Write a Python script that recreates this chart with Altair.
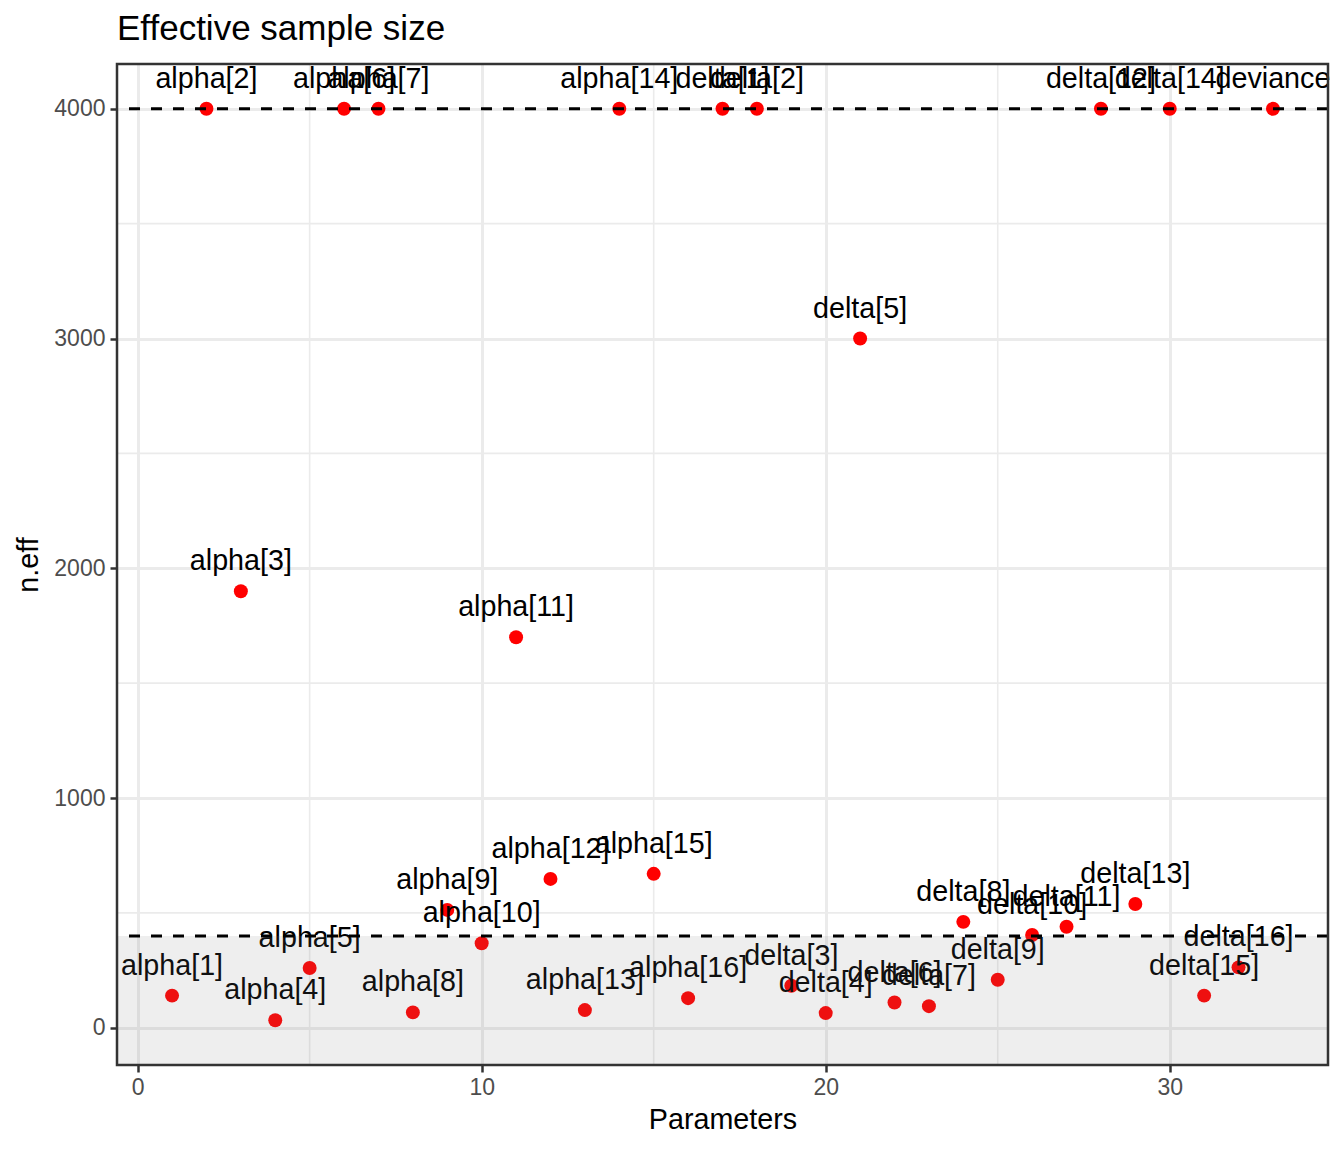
import altair as alt
import pandas as pd

# ---- data ----
alpha_names = [f"alpha[{i}]" for i in range(1, 17)]
alpha_neff = [140, 4000, 1900, 33, 260, 4000, 4000, 67, 513, 368, 1700, 648, 77, 4000, 670, 129]
delta_names = [f"delta[{i}]" for i in range(1, 17)]
delta_neff = [4000, 4000, 183, 64, 3000, 110, 94, 461, 209, 404, 440, 4000, 539, 4000, 140, 263]
other_names = ["deviance"]
other_neff = [4000]

x_ticks = [0, 10, 20, 30]
x_minor = [5, 15, 25]
y_ticks = [0, 1000, 2000, 3000, 4000]
y_minor = [500, 1500, 2500, 3500]
ref_lines = [400, 4000]
shade_top = [400]

names = alpha_names + delta_names + other_names
neff = alpha_neff + delta_neff + other_neff
df = pd.DataFrame({"param": names, "idx": list(range(1, len(names) + 1)), "neff": neff})

W, H = 1211, 1001
FONT = "Liberation Sans"

xscale = alt.Scale(domain=[-0.6, 34.6], nice=False, zero=False)
yscale = alt.Scale(domain=[-162, 4195], nice=False, zero=False)

xaxis = alt.Axis(values=x_ticks, title="Parameters", grid=True, gridColor="#EBEBEB", gridWidth=3,
                 domain=False, tickColor="#333333", tickWidth=2.5, tickSize=7,
                 labelColor="#4D4D4D", labelFontSize=23, labelFont=FONT, labelPadding=4,
                 titleFontSize=28.7, titleFont=FONT, titleFontWeight="normal", titleColor="black",
                 titlePadding=6, format="d")
yaxis = alt.Axis(values=y_ticks, title="n.eff", grid=True, gridColor="#EBEBEB", gridWidth=3,
                 domain=False, tickColor="#333333", tickWidth=2.5, tickSize=7,
                 labelColor="#4D4D4D", labelFontSize=23, labelFont=FONT, labelPadding=5,
                 titleFontSize=28.7, titleFont=FONT, titleFontWeight="normal", titleColor="black",
                 titlePadding=10, format="d")

minor_x = alt.Chart(pd.DataFrame({"v": x_minor})).mark_rule(color="#EBEBEB", strokeWidth=1.6).encode(
    x=alt.X("v:Q", scale=xscale, axis=xaxis))
minor_y = alt.Chart(pd.DataFrame({"v": y_minor})).mark_rule(color="#EBEBEB", strokeWidth=1.6).encode(
    y=alt.Y("v:Q", scale=yscale, axis=yaxis))

base = alt.Chart(df)
points = base.mark_circle(color="#FF0000", opacity=1, size=195).encode(
    x=alt.X("idx:Q", scale=xscale, axis=xaxis),
    y=alt.Y("neff:Q", scale=yscale, axis=yaxis),
)
labels = base.mark_text(font=FONT, fontSize=28.7, color="black", align="center",
                        baseline="alphabetic", dy=-21).encode(
    x=alt.X("idx:Q", scale=xscale, axis=xaxis),
    y=alt.Y("neff:Q", scale=yscale, axis=yaxis),
    text="param:N",
)
shade = alt.Chart(pd.DataFrame({"top": shade_top})).mark_rect(color="#7F7F7F", opacity=0.13).encode(
    y=alt.Y("top:Q", scale=yscale, axis=yaxis),
    y2=alt.value(H),
    x=alt.value(0),
    x2=alt.value(W),
)
rules = alt.Chart(pd.DataFrame({"y": ref_lines})).mark_rule(color="black", strokeWidth=3,
                                                           strokeDash=[11, 11]).encode(
    y=alt.Y("y:Q", scale=yscale, axis=yaxis))
border = alt.Chart(pd.DataFrame({"top": shade_top})).mark_rect(
    filled=False, stroke="#333333", strokeWidth=2.5, fillOpacity=0).encode(
    x=alt.value(0), x2=alt.value(W), y=alt.value(0), y2=alt.value(H))

chart = alt.layer(minor_x, minor_y, points, labels, shade, rules, border).properties(
    width=W, height=H,
    title=alt.TitleParams("Effective sample size", anchor="start", frame="group", font=FONT,
                          fontSize=35, fontWeight="normal", color="black", offset=16),
    autosize=alt.AutoSizeParams(type="none"),
    padding={"left": 109, "top": 56, "right": 8, "bottom": 80},
).configure_view(stroke=None, fill="white").configure(background="white")

chart.save("out.html", embed_options={"renderer": "svg", "actions": False})
